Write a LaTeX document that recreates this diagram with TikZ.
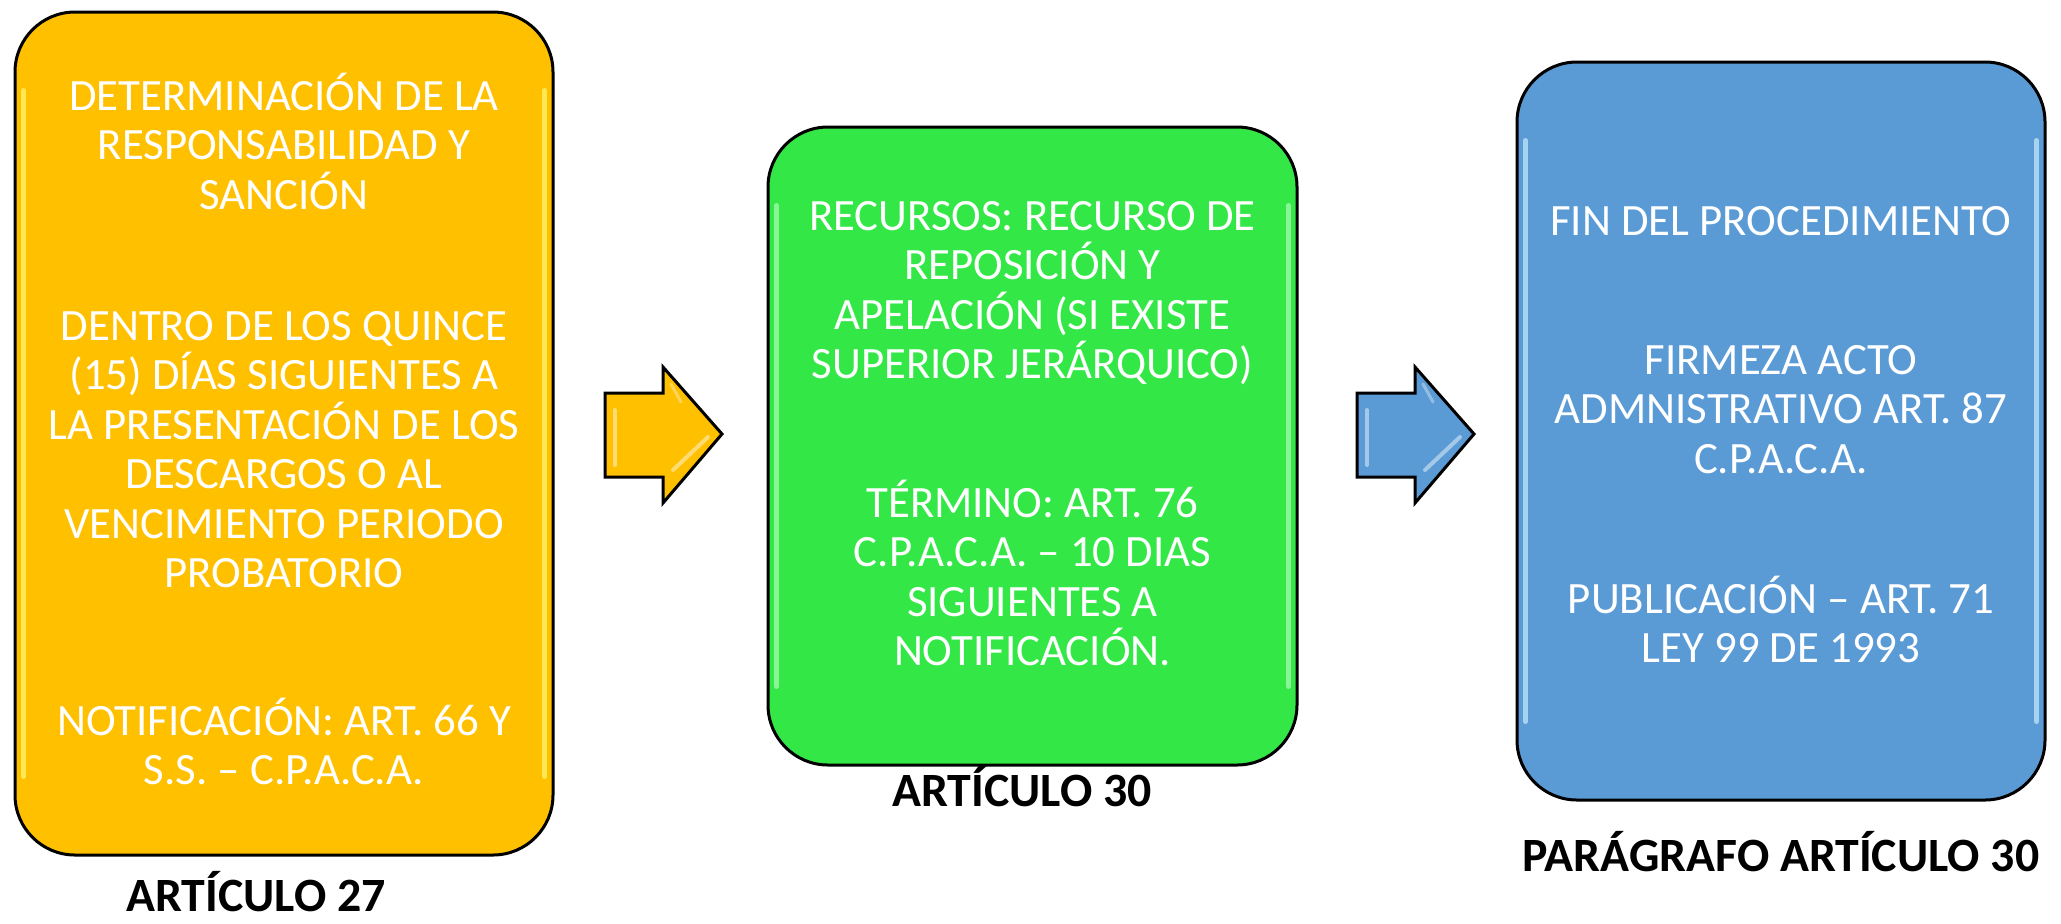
\documentclass[tikz,border=0pt]{standalone}
\usepackage{fontspec}
\setmainfont{Carlito}
\definecolor{cOrange}{HTML}{FFC000}
\definecolor{cGreen}{HTML}{33E846}
\definecolor{cBlue}{HTML}{5B9BD5}
\definecolor{hlOrange}{HTML}{FFFF80}
\definecolor{hlGreen}{HTML}{B8FFC0}
\definecolor{hlBlue}{HTML}{CFF2FF}
\tikzset{
  card/.style={draw=black, line width=1.5pt, rounded corners=30pt, inner sep=0pt},
  hl/.style={line width=2.5pt, line cap=round, opacity=0.65},
  txt/.style={text=white, anchor=base, inner sep=0pt, font=\fontsize{22.4}{26}\selectfont},
  lab/.style={text=black, anchor=base, inner sep=0pt, font=\bfseries\fontsize{23.9}{28}\selectfont},
  blockarrow/.pic={
    \draw[pic actions] (0,0) -- (0,-41) -- (58,-41) -- (58,-67) -- (117,0) -- (58,69) -- (58,43) -- (0,43) -- cycle;
    \draw[white, opacity=0.45, line width=2pt, line cap=round] (10,-24) -- (10,31);
    \draw[white, opacity=0.45, line width=2pt, line cap=round] (103,3) -- (68,36);
    \draw[white, opacity=0.35, line width=1.5pt, line cap=round] (66,-50) -- (76,-32);
  },
  arrowstyle/.style={draw=black, line width=1.5pt, line join=miter}
}
\begin{document}
\begin{tikzpicture}[x=0.5pt, y=-0.5pt]
\useasboundingbox (0,0) rectangle (2061,923);
% boxes
\node[card, fill=cOrange, minimum width=269pt, minimum height=421.5pt] (b1) at (284,433.5) {};
\node[card, fill=cGreen, minimum width=264.5pt, minimum height=319pt] (b2) at (1032.5,446) {};
\node[card, fill=cBlue, minimum width=264pt, minimum height=369pt] (b3) at (1781,431) {};
% glossy edge highlights
\draw[hl, draw=hlOrange] ([xshift=5pt,yshift=-40pt]b1.north west) -- ([xshift=5pt,yshift=40pt]b1.south west);
\draw[hl, draw=hlOrange] ([xshift=-5pt,yshift=-40pt]b1.north east) -- ([xshift=-5pt,yshift=40pt]b1.south east);
\draw[hl, draw=hlGreen] ([xshift=5pt,yshift=-40pt]b2.north west) -- ([xshift=5pt,yshift=40pt]b2.south west);
\draw[hl, draw=hlGreen] ([xshift=-5pt,yshift=-40pt]b2.north east) -- ([xshift=-5pt,yshift=40pt]b2.south east);
\draw[hl, draw=hlBlue] ([xshift=5pt,yshift=-40pt]b3.north west) -- ([xshift=5pt,yshift=40pt]b3.south west);
\draw[hl, draw=hlBlue] ([xshift=-5pt,yshift=-40pt]b3.north east) -- ([xshift=-5pt,yshift=40pt]b3.south east);
% box 1 text
\node[txt] (b1l1) at (284,110) {DETERMINACIÓN DE LA};
\node[txt] (b1l2) at (284,159.5) {RESPONSABILIDAD Y};
\node[txt] (b1l3) at (284,209) {SANCIÓN};
\node[txt] (b1l4) at (284,340) {DENTRO DE LOS QUINCE};
\node[txt] (b1l5) at (284,389.5) {(15) DÍAS SIGUIENTES A};
\node[txt] (b1l6) at (284,439) {LA PRESENTACIÓN DE LOS};
\node[txt] (b1l7) at (284,488.5) {DESCARGOS O AL};
\node[txt] (b1l8) at (284,538) {VENCIMIENTO PERIODO};
\node[txt] (b1l9) at (284,587.5) {PROBATORIO};
\node[txt] (b1l10) at (284,735) {NOTIFICACIÓN: ART. 66 Y};
\node[txt] (b1l11) at (284,784.5) {S.S. – C.P.A.C.A.};
% box 2 text
\node[txt] (b2l1) at (1032.5,230) {RECURSOS: RECURSO DE};
\node[txt] (b2l2) at (1032.5,279.5) {REPOSICIÓN Y};
\node[txt] (b2l3) at (1032.5,329) {APELACIÓN (SI EXISTE};
\node[txt] (b2l4) at (1032.5,378.5) {SUPERIOR JERÁRQUICO)};
\node[txt] (b2l5) at (1032.5,517) {TÉRMINO: ART. 76};
\node[txt] (b2l6) at (1032.5,566.5) {C.P.A.C.A. – 10 DIAS};
\node[txt] (b2l7) at (1032.5,616) {SIGUIENTES A};
\node[txt] (b2l8) at (1032.5,665.5) {NOTIFICACIÓN.};
% box 3 text
\node[txt] (b3l1) at (1781,235) {FIN DEL PROCEDIMIENTO};
\node[txt] (b3l2) at (1781,374) {FIRMEZA ACTO};
\node[txt] (b3l3) at (1781,423.5) {ADMNISTRATIVO ART. 87};
\node[txt] (b3l4) at (1781,473) {C.P.A.C.A.};
\node[txt] (b3l5) at (1781,613) {PUBLICACIÓN – ART. 71};
\node[txt] (b3l6) at (1781,662.5) {LEY 99 DE 1993};
% labels
\node[lab] (lab1) at (256,911) {ARTÍCULO 27};
\node[lab] (lab2) at (1022,806) {ARTÍCULO 30};
\node[lab] (lab3) at (1781,871) {PARÁGRAFO ARTÍCULO 30};
% block arrows
\pic[arrowstyle, fill=cOrange] (ar1) at (605,434) {blockarrow};
\pic[arrowstyle, fill=cBlue] (ar2) at (1357,434) {blockarrow};
\end{tikzpicture}
\end{document}
